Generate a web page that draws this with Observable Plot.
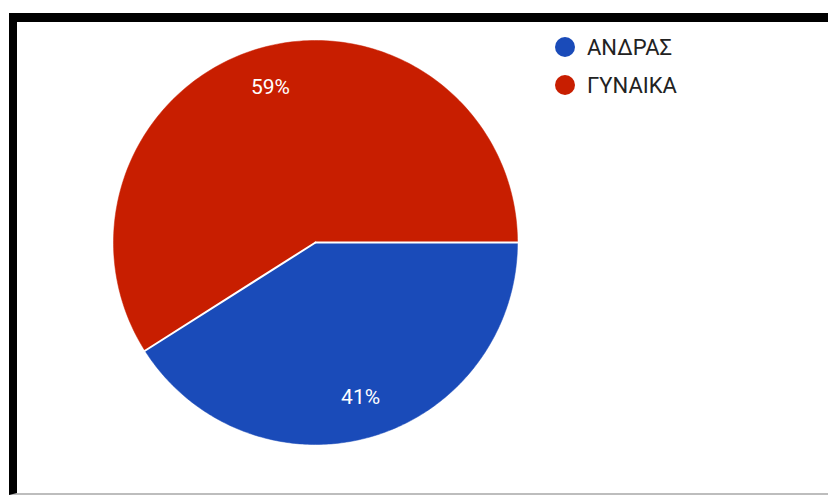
<!DOCTYPE html>
<html>
<head>
<meta charset="utf-8">
<script src="https://cdn.jsdelivr.net/npm/d3@7"></script>
<script src="https://cdn.jsdelivr.net/npm/@observablehq/plot@0.6"></script>
<style>
  html, body { margin: 0; padding: 0; background: #fff; }
  body { width: 828px; height: 495px; position: relative; overflow: hidden; font-family: Roboto, "Noto Sans", sans-serif; }
  #chart { position: absolute; left: 0; top: 0; }
  #frame { position: absolute; left: 9px; top: 13px; width: 819px;
           border-top: 9px solid #000; border-left: 8px solid #000; border-bottom: 2px solid #bdbdbd; box-sizing: border-box; height: 482px; }
  #legend { position: absolute; left: 555px; top: 28px; }
  .item { display: flex; align-items: center; height: 38px; font-size: 22px; color: #222; }
  .sw { width: 20px; height: 20px; border-radius: 50%; margin-right: 12px; }
</style>
</head>
<body>
<div id="chart"></div>
<div id="frame"></div>
<div id="legend"></div>
<script>
const categories = ["ΑΝΔΡΑΣ", "ΓΥΝΑΙΚΑ"];
const values = [41, 59];
const colors = ["#1a4bb9", "#c81e00"];

// angles: start at 3 o'clock, going clockwise on screen (y grows downward)
const total = d3.sum(values);
let acc = 0;
const slices = categories.map((c, i) => {
  const a0 = acc / total * 2 * Math.PI;
  acc += values[i];
  const a1 = acc / total * 2 * Math.PI;
  return {category: c, value: values[i], a0, a1};
});

const polys = [];
for (const s of slices) {
  polys.push({category: s.category, x: 0, y: 0});
  const n = 200;
  for (let k = 0; k <= n; k++) {
    const a = s.a0 + (s.a1 - s.a0) * k / n;
    polys.push({category: s.category, x: Math.cos(a), y: Math.sin(a)});
  }
  polys.push({category: s.category, x: 0, y: 0});
}
const labels = slices.map(s => {
  const m = (s.a0 + s.a1) / 2;
  return {category: s.category, x: 0.8 * Math.cos(m), y: 0.8 * Math.sin(m), text: Math.round(s.value / total * 100) + "%"};
});
const edges = [];
for (const s of slices) {
  edges.push({id: s.category, x: 0, y: 0});
  edges.push({id: s.category, x: Math.cos(s.a0), y: Math.sin(s.a0)});
}

const cx = 315, cy = 242, r = 202;
const plot = Plot.plot({
  width: 828,
  height: 495,
  margin: 0,
  x: {domain: [-1, 1], range: [cx - r, cx + r], axis: null},
  y: {domain: [-1, 1], range: [cy - r, cy + r], axis: null},
  color: {domain: categories, range: colors},
  style: {background: "transparent", fontFamily: "Roboto, sans-serif"},
  marks: [
    Plot.line(polys, {x: "x", y: "y", z: "category", fill: "category", stroke: "category", strokeWidth: 0.5, curve: "linear"}),
    Plot.line(edges, {x: "x", y: "y", z: "id", stroke: "#fff", strokeWidth: 2}),
    Plot.text(labels, {x: "x", y: "y", text: "text", fill: "#fff", fontSize: 21, textAnchor: "middle"})
  ]
});
document.getElementById("chart").appendChild(plot);

const legend = document.getElementById("legend");
categories.forEach((c, i) => {
  const it = document.createElement("div");
  it.className = "item";
  const sw = document.createElement("div");
  sw.className = "sw";
  sw.style.background = colors[i];
  const t = document.createElement("span");
  t.textContent = c;
  it.appendChild(sw); it.appendChild(t);
  legend.appendChild(it);
});
</script>
</body>
</html>
